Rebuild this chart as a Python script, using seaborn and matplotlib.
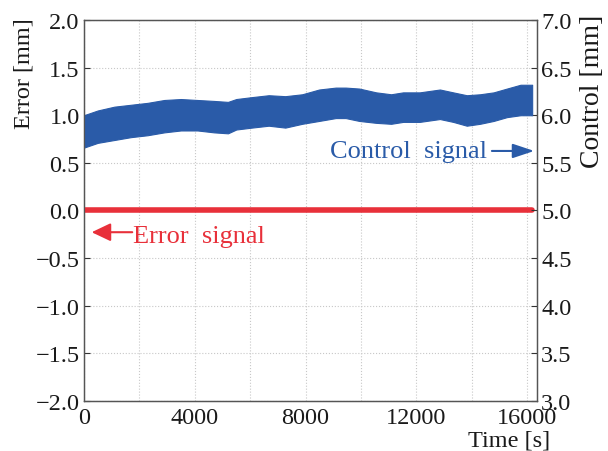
import matplotlib
matplotlib.use("Agg")
import matplotlib.pyplot as plt
import seaborn as sns
import pandas as pd

# ---- data ----
time_env = [0, 500, 1100, 1700, 2300, 2900, 3500, 4100, 4700, 5200, 5500,
            6060, 6670, 7270, 7880, 8490, 9090, 9450, 9940, 10550, 11090,
            11520, 12120, 12850, 13330, 13820, 14300, 14790, 15270, 15760, 16180]
control_upper = [6.00, 6.05, 6.09, 6.11, 6.13, 6.16, 6.17, 6.16, 6.15, 6.14, 6.17,
                 6.19, 6.21, 6.20, 6.22, 6.27, 6.29, 6.29, 6.28, 6.24, 6.22,
                 6.24, 6.24, 6.27, 6.24, 6.21, 6.22, 6.24, 6.28, 6.32, 6.32]
control_lower = [5.66, 5.71, 5.74, 5.77, 5.79, 5.82, 5.84, 5.84, 5.82, 5.81, 5.85,
                 5.87, 5.89, 5.87, 5.91, 5.94, 5.97, 5.97, 5.94, 5.92, 5.91,
                 5.93, 5.93, 5.96, 5.93, 5.89, 5.91, 5.94, 5.98, 6.00, 6.00]
time_err = [0, 16180]
error_vals = [0.0, 0.0]

x_ticks = [0, 4000, 8000, 12000, 16000]
left_ticks = [-2.0, -1.5, -1.0, -0.5, 0.0, 0.5, 1.0, 1.5, 2.0]
right_ticks = [3.0, 3.5, 4.0, 4.5, 5.0, 5.5, 6.0, 6.5, 7.0]

BLUE = "#2A5BA8"
RED = "#E8303A"

sns.set_theme(style="white")
plt.rcParams["font.family"] = ["Liberation Serif", "DejaVu Serif"]
plt.rcParams["axes.unicode_minus"] = True
FS = 17.5
FS_ANN = 19

fig = plt.figure(figsize=(6.08, 4.52), dpi=100)
ax = fig.add_axes([0.138, 0.1106, 0.745, 0.843])
ax2 = ax.twinx()

df_err = pd.DataFrame({"t": time_err, "e": error_vals})
sns.lineplot(data=df_err, x="t", y="e", ax=ax, color=RED, lw=4, zorder=3)

ax2.fill_between(time_env, control_lower, control_upper, color=BLUE,
                 lw=0.8, edgecolor=BLUE, zorder=2)

ax.set_xlim(0, 16350)
ax.set_ylim(-2.0, 2.0)
ax2.set_ylim(3.0, 7.0)

ax.set_xticks(range(0, 16001, 2000))
ax.set_xticklabels([str(v) if v in x_ticks else "" for v in range(0, 16001, 2000)])
ax.set_yticks(left_ticks)
ax.set_yticklabels([f"{v:.1f}".replace("-", "\u2212") for v in left_ticks])
ax2.set_yticks(right_ticks)
ax2.set_yticklabels([f"{v:.1f}" for v in right_ticks])

ax.grid(True, color="#C8C8C8", ls=":", lw=0.8)
ax.set_axisbelow(True)

for a in (ax, ax2):
    a.tick_params(direction="in", length=4, width=0.8, colors="#333333",
                  labelsize=FS, pad=3, labelcolor="#1a1a1a")
    for s in a.spines.values():
        s.set_color("#555555")
        s.set_linewidth(0.9)
ax.tick_params(axis="x", pad=4)

ax.set_xlabel("")
ax.set_ylabel("")
fig.text(0.04, 0.838, "Error [mm]", rotation=90, ha="center", va="center",
         fontsize=FS, color="#1a1a1a")
fig.text(0.975, 0.797, "Control [mm]", rotation=90, ha="center", va="center",
         fontsize=20, color="#1a1a1a")
fig.text(0.905, 0.002, "Time [s]", ha="right", va="bottom",
         fontsize=17.5, color="#1a1a1a")

# annotations
ax2.text(14545, 5.625, "Control  signal", color=BLUE, fontsize=FS_ANN,
         ha="right", va="center")
ax2.annotate("", xy=(16254, 5.625), xytext=(14727, 5.625),
             arrowprops=dict(arrowstyle="-|>,head_length=0.45,head_width=0.15",
                             color=BLUE, lw=1.5, mutation_scale=29,
                             shrinkA=0, shrinkB=0))
ax.text(1782, -0.265, "Error  signal", color=RED, fontsize=FS_ANN,
        ha="left", va="center")
ax.annotate("", xy=(280, -0.228), xytext=(1745, -0.228),
            arrowprops=dict(arrowstyle="-|>,head_length=0.4,head_width=0.19",
                            color=RED, lw=1.5, mutation_scale=29,
                            shrinkA=0, shrinkB=0))

fig.savefig("out.png", dpi=100)
